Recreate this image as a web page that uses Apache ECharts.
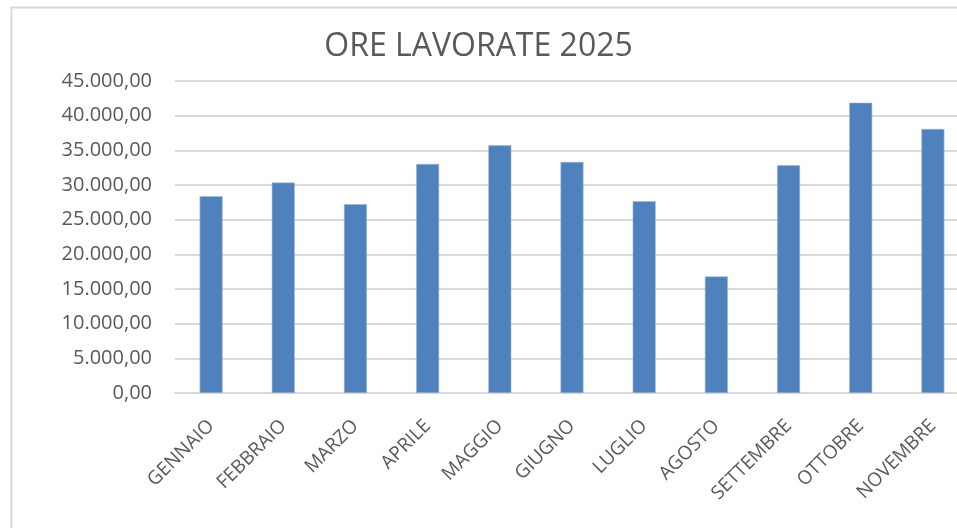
<!DOCTYPE html>
<html>
<head>
<meta charset="utf-8">
<script src="https://cdn.jsdelivr.net/npm/echarts@6/dist/echarts.min.js"></script>
<style>
  html, body { margin: 0; padding: 0; background: #fff; }
  #chart { width: 957px; height: 528px; }
</style>
</head>
<body>
<div id="chart"></div>
<script>
// mesi e ore lavorate
const months = ["GENNAIO", "FEBBRAIO", "MARZO", "APRILE", "MAGGIO", "GIUGNO",
  "LUGLIO", "AGOSTO", "SETTEMBRE", "OTTOBRE", "NOVEMBRE"];
const hours = [28390, 30350, 27230, 33040, 35730, 33330, 27670, 16800, 32850, 41870, 38080];

const yMin = 0;
const yMax = 45000;
const yStep = 5000;

// formato italiano: 45.000,00
function fmtIt(v) {
  const parts = v.toFixed(2).split(".");
  const intPart = parts[0].replace(/\B(?=(\d{3})+(?!\d))/g, ".");
  return intPart + "," + parts[1];
}

const chart = echarts.init(document.getElementById("chart"));

const textColor = "#595959";
const gridColor = "#d9d9d9";

chart.setOption({
  animation: false,
  title: {
    text: "ORE LAVORATE 2025",
    left: "center",
    top: 26,
    textStyle: {
      fontFamily: "Open Sans",
      fontSize: 32,
      fontWeight: "normal",
      color: textColor
    }
  },
  graphic: [
    {
      type: "rect",
      left: 9,
      top: 5,
      shape: { width: 1000, height: 600 },
      style: { fill: "none", stroke: gridColor, lineWidth: 2 },
      silent: true
    }
  ],
  // il grafico originale è tagliato a destra: l'area supera la finestra
  grid: {
    left: 175,
    width: 794,
    top: 81,
    bottom: 135,
    containLabel: false,
    outerBoundsMode: "none"
  },
  xAxis: {
    type: "category",
    data: months,
    axisLine: { lineStyle: { color: gridColor, width: 2 } },
    axisTick: { show: false },
    axisLabel: {
      rotate: 45,
      interval: 0,
      margin: 30,
      color: textColor,
      fontFamily: "Open Sans",
      fontSize: 19
    }
  },
  yAxis: {
    type: "value",
    min: yMin,
    max: yMax,
    interval: yStep,
    axisLine: { show: false },
    axisTick: { show: false },
    splitLine: { lineStyle: { color: gridColor, width: 2 } },
    axisLabel: {
      margin: 23,
      color: textColor,
      fontFamily: "Open Sans",
      fontSize: 20,
      formatter: fmtIt
    }
  },
  series: [
    {
      type: "bar",
      data: hours,
      barWidth: 23,
      itemStyle: {
        color: "#4f81bd",
        borderColor: "#9db7dc",
        borderWidth: 0.6
      }
    }
  ]
});
</script>
</body>
</html>
